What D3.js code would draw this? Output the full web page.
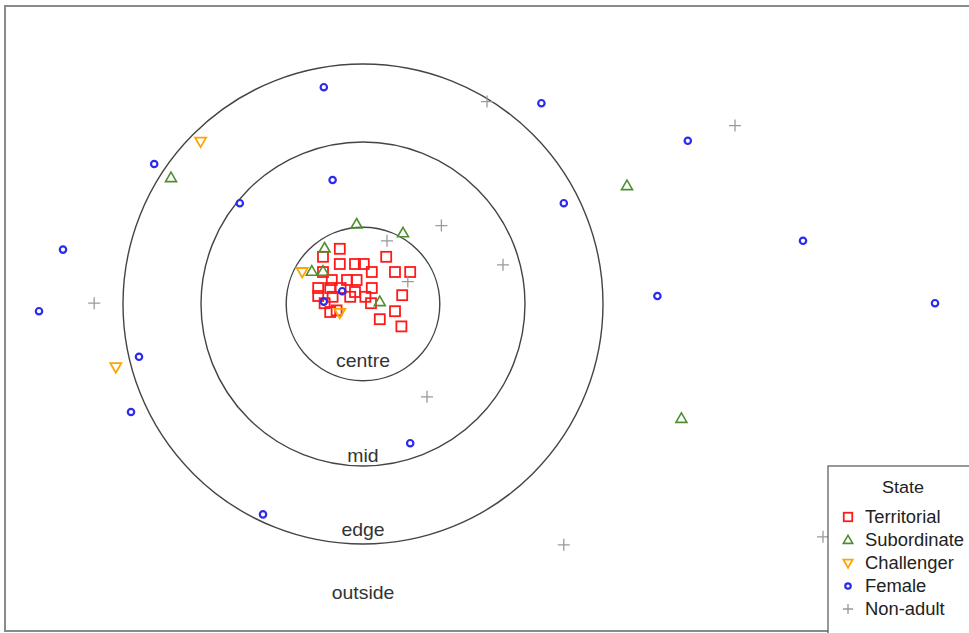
<!DOCTYPE html>
<html>
<head>
<meta charset="utf-8">
<script src="https://cdn.jsdelivr.net/npm/d3@7"></script>
<style>
  html, body { margin: 0; padding: 0; background: #fff; }
  svg { display: block; }
  text { font-family: "Liberation Sans", Arial, sans-serif; }
</style>
</head>
<body>
<svg id="chart" width="969" height="633"></svg>
<script>
// Positions in metres relative to the territory centre.
const states = ["Territorial", "Subordinate", "Challenger", "Female", "Non-adult"];

const territorial = [
  [-2.9, 6.9], [-5.0, 5.9], [2.9, 5.9], [-2.9, 5.0], [-1.0, 5.0], [0.1, 5.0],
  [-5.0, 4.0], [1.1, 4.0], [4.0, 4.0], [5.9, 4.0], [-2.0, 3.0], [-0.8, 3.0],
  [-3.9, 3.0], [-5.6, 2.0], [-4.1, 2.0], [-2.8, 2.0], [1.1, 2.0], [-1.0, 1.5],
  [4.9, 1.1], [-5.6, 1.0], [-3.8, 0.9], [-1.6, 0.9], [0.3, 0.9], [-4.8, 0.1],
  [1.0, 0.1], [-3.3, -0.8], [4.0, -0.9], [-4.1, -1.0], [2.1, -1.9], [4.8, -2.8]
];
const subordinate = [
  [-24.0, 15.8], [33.0, 14.8], [-0.8, 10.0], [5.0, 8.9], [-4.8, 7.0],
  [39.8, -14.3], [2.1, 0.3], [-6.4, 4.1], [-5.0, 4.1]
];
const challenger = [
  [-20.3, 20.3], [-30.9, -7.9], [-7.6, 4.0], [-2.9, -1.1]
];
const female = [
  [-4.9, 27.1], [22.3, 25.1], [40.6, 20.4], [-26.1, 17.5], [-3.8, 15.5],
  [-15.4, 12.6], [25.1, 12.6], [55.0, 7.9], [-37.5, 6.8], [36.8, 1.0],
  [-40.5, -0.9], [71.5, 0.1], [-28.0, -6.6], [-29.0, -13.5], [5.9, -17.4],
  [-12.5, -26.3], [-4.9, 0.3], [-2.6, 1.6]
];
const nonAdult = [
  [15.5, 25.3], [46.5, 22.3], [-33.6, 0.1], [9.8, 9.8], [3.0, 7.9],
  [17.5, 4.9], [8.0, -11.6], [25.1, -30.1], [5.6, 2.8], [57.5, -29.1]
];

// Zone boundaries (radius, metres) and zone names
const ringRadii = [9.6, 20.25, 30];
const zoneNames = ["centre", "mid", "edge", "outside"];
const zoneLabelY = [-7.9, -19.7, -29.0, -36.9];

const colors = {
  "Territorial": "#ff1a1a",
  "Subordinate": "#4f8f2f",
  "Challenger": "#ffa500",
  "Female": "#2b2bf0",
  "Non-adult": "#9a9a9a"
};

const svg = d3.select("#chart");
const x = d3.scaleLinear().domain([-44.75, 76]).range([5, 971]);
const y = d3.scaleLinear().domain([37.25, -40.875]).range([6, 631]);
const px = x(1) - x(0);

// frame
svg.append("rect")
  .attr("x", x(-44.75)).attr("y", y(37.25))
  .attr("width", x(76) - x(-44.75)).attr("height", y(-40.875) - y(37.25))
  .attr("fill", "none").attr("stroke", "#8a8a8a").attr("stroke-width", 2);

// zone rings
svg.append("g").selectAll("circle").data(ringRadii).join("circle")
  .attr("cx", x(0)).attr("cy", y(0)).attr("r", d => d * px)
  .attr("fill", "none").attr("stroke", "#444").attr("stroke-width", 1.4);

svg.append("g").selectAll("text").data(zoneNames).join("text")
  .attr("transform", (d, i) => `translate(${x(0)},${y(zoneLabelY[i])}) scale(1.08,1)`)
  .attr("text-anchor", "middle").attr("font-size", 18).attr("fill", "#333")
  .text(d => d);

// marker shapes
function drawMarker(g, state, k = 1) {
  const c = colors[state];
  if (state === "Territorial") {
    g.append("rect").attr("x", -5 * k).attr("y", -5 * k).attr("width", 10 * k).attr("height", 10 * k)
      .attr("fill", "none").attr("stroke", c).attr("stroke-width", 1.8);
  } else if (state === "Subordinate") {
    g.append("path").attr("d", `M0,${-5.5 * k}L${5.5 * k},${4 * k}L${-5.5 * k},${4 * k}Z`)
      .attr("fill", "none").attr("stroke", c).attr("stroke-width", 1.6);
  } else if (state === "Challenger") {
    g.append("path").attr("d", `M0,${5.5 * k}L${5.5 * k},${-4 * k}L${-5.5 * k},${-4 * k}Z`)
      .attr("fill", "none").attr("stroke", c).attr("stroke-width", 1.8);
  } else if (state === "Female") {
    g.append("circle").attr("r", 3.2 * k)
      .attr("fill", "none").attr("stroke", c).attr("stroke-width", 2.2);
  } else {
    g.append("path").attr("d", `M${-6 * k},0H${6 * k}M0,${-6 * k}V${6 * k}`)
      .attr("fill", "none").attr("stroke", c).attr("stroke-width", 1.3);
  }
}

const seriesData = {
  "Territorial": territorial,
  "Subordinate": subordinate,
  "Challenger": challenger,
  "Female": female,
  "Non-adult": nonAdult
};

const pts = svg.append("g");
states.forEach(s => {
  seriesData[s].forEach(d => {
    const g = pts.append("g").attr("transform", `translate(${x(d[0])},${y(d[1])})`);
    drawMarker(g, s);
  });
});

// legend
const lg = svg.append("g").attr("transform", "translate(828,466)");
lg.append("rect").attr("width", 200).attr("height", 200)
  .attr("fill", "#fff").attr("stroke", "#555").attr("stroke-width", 1.2);
lg.append("text").attr("transform", "translate(75,27) scale(1.06,1)").attr("text-anchor", "middle")
  .attr("font-size", 17).attr("fill", "#222").text("State");
states.forEach((s, i) => {
  const row = lg.append("g").attr("transform", `translate(20,${51 + i * 23})`);
  drawMarker(row, s, 0.85);
  row.append("text").attr("transform", "translate(17,6) scale(1.05,1)").attr("font-size", 17.5)
    .attr("fill", "#222").text(s);
});
</script>
</body>
</html>
